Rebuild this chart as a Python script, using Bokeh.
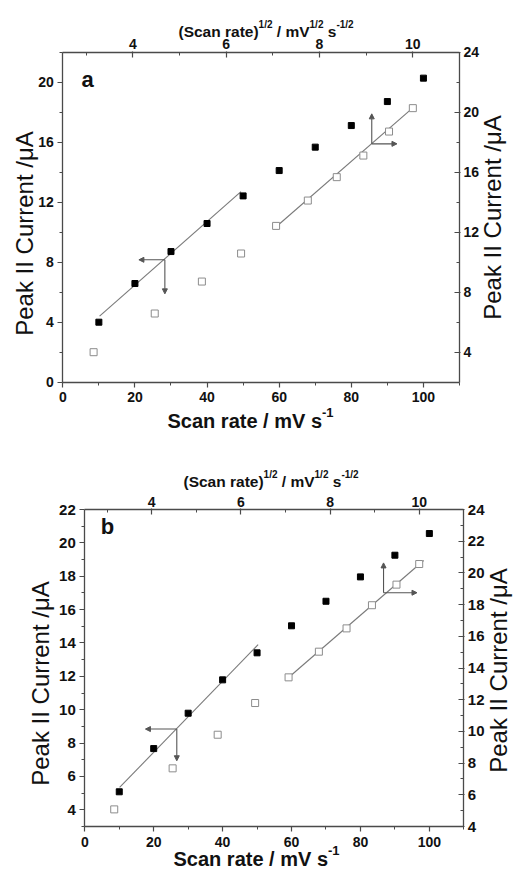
import math
from bokeh.plotting import figure
from bokeh.models import Range1d, LinearAxis, FixedTicker, Label, Arrow, NormalHead
from bokeh.embed import file_html
from bokeh.resources import INLINE

# ---------------- data ----------------
scan_rate = [10, 20, 30, 40, 50, 60, 70, 80, 90, 100]
sqrt_scan_rate = [3.16, 4.47, 5.48, 6.32, 7.07, 7.75, 8.37, 8.94, 9.49, 10.0]
current_a = [4.00, 6.58, 8.71, 10.58, 12.42, 14.11, 15.67, 17.11, 18.71, 20.27]
current_b = [5.08, 7.67, 9.79, 11.79, 13.41, 15.03, 16.50, 17.96, 19.26, 20.56]

# linear fits (end points)
fit_a_low_x, fit_a_low_y = [10.2, 49.4], [4.40, 12.70]
fit_a_high_x, fit_a_high_y = [7.06, 10.06], [12.33, 20.45]
fit_b_low_x, fit_b_low_y = [10.1, 50.3], [5.34, 13.90]
fit_b_high_x, fit_b_high_y = [7.07, 10.10], [13.40, 20.78]

# arrow markers: crossing point, end of horizontal arrow, end of vertical arrow
arrow_a_low = (28.3, 8.16, 21.1, 5.89)
arrow_a_high = (9.12, 17.89, 9.66, 19.89)
arrow_b_low = (26.7, 8.84, 17.6, 6.94)
arrow_b_high = (9.20, 18.75, 9.95, 20.63)

# axis ranges and ticks
x_range = (0, 110)
sqrt_range = (2.5, 11)
bottom_ticks, bottom_minor = [0, 20, 40, 60, 80, 100], [10, 30, 50, 70, 90, 110]
top_ticks, top_minor = [4, 6, 8, 10], [3, 5, 7, 9, 11]
left_range_a, right_range_a = (0, 22), (2, 24)
left_ticks_a, left_minor_a = [0, 4, 8, 12, 16, 20], [2, 6, 10, 14, 18, 22]
right_ticks_a, right_minor_a = [4, 8, 12, 16, 20, 24], [6, 10, 14, 18, 22]
left_range_b, right_range_b = (3, 22), (4, 24)
left_ticks_b, left_minor_b = [4, 6, 8, 10, 12, 14, 16, 18, 20, 22], [3, 5, 7, 9, 11, 13, 15, 17, 19, 21]
right_ticks_b, right_minor_b = [4, 6, 8, 10, 12, 14, 16, 18, 20, 22, 24], [5, 7, 9, 11, 13, 15, 17, 19, 21, 23]

FONT = "Liberation Sans"
AXC = "#4a4a4a"
TXT = "#111111"
W = 513

# Arial-bold advance widths (1/1000 em) for composing superscripts
AW = {' ': 278, '(': 333, ')': 333, 'S': 667, 'c': 556, 'a': 556, 'n': 611, 'r': 389,
      't': 333, 'e': 556, '/': 278, 'm': 889, 'V': 667, 's': 556, '1': 556, '2': 556, '-': 333}


def tw(s, size):
    return sum(AW.get(c, 556) for c in s) * size / 1000.0


def ext(lo, hi, p_lo, p_hi, total):
    """extend a data range so that lo..hi sits at pixels p_lo..p_hi of a canvas of size total"""
    s = (hi - lo) / (p_hi - p_lo)
    return lo - p_lo * s, hi + (total - p_hi) * s


def make_panel(g, left_range, right_range, lt, lm, rt, rm, tick_size_lr):
    H = g["H"]
    xr = ext(*x_range, g["fl"], g["fr"], W)
    sr = ext(*sqrt_range, g["fl"], g["fr"], W)
    yr = ext(*left_range, H - g["fb"], H - g["ft"], H)
    rr = ext(*right_range, H - g["fb"], H - g["ft"], H)
    p = figure(width=W, height=H, min_border_left=0, min_border_right=0,
               min_border_top=0, min_border_bottom=0,
               x_range=Range1d(*xr), y_range=Range1d(*yr),
               x_axis_location=None, y_axis_location=None,
               output_backend="svg", toolbar_location=None)
    p.extra_x_ranges = {"sqrt": Range1d(*sr)}
    p.extra_y_ranges = {"right": Range1d(*rr)}
    p.grid.visible = False
    p.outline_line_color = None
    p.background_fill_color = "white"
    p.border_fill_color = "white"

    bottom = LinearAxis(fixed_location=left_range[0], bounds=x_range)
    left = LinearAxis(fixed_location=x_range[0], bounds=left_range)
    top = LinearAxis(x_range_name="sqrt", fixed_location=left_range[1], bounds=sqrt_range)
    right = LinearAxis(y_range_name="right", fixed_location=x_range[1], bounds=right_range)
    p.add_layout(bottom, "below")
    p.add_layout(left, "left")
    p.add_layout(top, "above")
    p.add_layout(right, "right")

    def style(ax, ticks, minor, tin, tout, min_in, min_out, standoff, size):
        ax.ticker = FixedTicker(ticks=ticks, minor_ticks=minor)
        ax.axis_line_color = AXC
        ax.axis_line_width = 1.3
        ax.major_tick_line_color = AXC
        ax.minor_tick_line_color = AXC
        ax.major_tick_line_width = 1.2
        ax.minor_tick_line_width = 1.0
        ax.major_tick_in = tin
        ax.major_tick_out = tout
        ax.minor_tick_in = min_in
        ax.minor_tick_out = min_out
        ax.major_label_text_font = FONT
        ax.major_label_text_font_size = size
        ax.major_label_text_font_style = "bold"
        ax.major_label_text_color = TXT
        ax.major_label_standoff = standoff

    style(bottom, bottom_ticks, bottom_minor, 0, 5, 0, 3, 5, "14px")
    style(left, lt, lm, 0, 5, 0, 3, 4, tick_size_lr)
    style(top, top_ticks, top_minor, 5, 1, 3, 0, 2, "14px")
    style(right, rt, rm, 5, 1, 3, 0, 3, tick_size_lr)
    return p


def add_text(p, g, px, py, text, size, bold, align, angle=0.0):
    # px, py: page pixels of the text's vertical middle; canvas units start at the figure's top-left
    p.add_layout(Label(x=px, y=py - g["top"], x_units="canvas", y_units="canvas",
                       text=text, text_font=FONT, text_font_size=f"{size}px",
                       text_font_style="bold" if bold else "normal", text_color=TXT,
                       text_align=align, text_baseline="middle", angle=angle))


def rich_label(p, g, x_px, base_py, pieces):
    # base_py: page y of the text baseline; pieces: (text, font size, rise of its baseline)
    for text, size, rise in pieces:
        lead = len(text) - len(text.lstrip(' '))
        x_px += tw(' ' * lead, size)
        t = text.strip(' ')
        add_text(p, g, x_px, base_py - rise - 0.35 * size, t, size, True, "left")
        x_px += tw(t, size)


def draw_data(p, current, fl_x, fl_y, fh_x, fh_y, arr_low, arr_high):
    p.line(fl_x, fl_y, line_color="#7a7a7a", line_width=1.1)
    p.line(fh_x, fh_y, line_color="#7a7a7a", line_width=1.1,
           x_range_name="sqrt", y_range_name="right")
    p.scatter(scan_rate, current, marker="square", size=6,
              fill_color="black", line_color="black")
    p.scatter(sqrt_scan_rate, current, marker="square", size=7,
              fill_color="white", line_color="#8c8c8c", line_width=1,
              x_range_name="sqrt", y_range_name="right")
    cx, cy, hx, vy = arr_low
    for xe, ye in ((hx, cy), (cx, vy)):
        p.add_layout(Arrow(x_start=cx, y_start=cy, x_end=xe, y_end=ye,
                           line_color="#555555", line_width=1.1,
                           end=NormalHead(size=5, fill_color="#555555", line_color="#555555")))
    cx, cy, hx, vy = arr_high
    for xe, ye in ((hx, cy), (cx, vy)):
        p.add_layout(Arrow(x_start=cx, y_start=cy, x_end=xe, y_end=ye,
                           line_color="#555555", line_width=1.1,
                           x_range_name="sqrt", y_range_name="right",
                           end=NormalHead(size=5, fill_color="#555555", line_color="#555555")))


def top_pieces(f, fs):
    return [("(Scan rate)", f, 0), ("1/2", fs, 9), (" / mV", f, 0), ("1/2", fs, 9),
            (" s", f, 0), ("-1/2", fs, 9)]


def bottom_pieces(f, fs):
    return [("Scan rate / mV s", f, 0), ("-1", fs, 10)]


YLABEL = "Peak II Current /\u03bcA"

# ---------------- panel a ----------------
# top: page y of figure top; fl/fr: frame x; ft/fb: frame y inside the figure
ga = dict(top=0, H=440, fl=62.3, fr=459.0, ft=51.7, fb=381.7)
pa = make_panel(ga, left_range_a, right_range_a, left_ticks_a, left_minor_a,
                right_ticks_a, right_minor_a, "14px")
draw_data(pa, current_a, fit_a_low_x, fit_a_low_y, fit_a_high_x, fit_a_high_y,
          arrow_a_low, arrow_a_high)
add_text(pa, ga, 87, 79, "a", 22, True, "center")
rich_label(pa, ga, 178, 36, top_pieces(15.5, 10))
rich_label(pa, ga, 167, 427, bottom_pieces(20, 13))
add_text(pa, ga, 24, 233, YLABEL, 24, False, "center", math.pi / 2)
add_text(pa, ga, 492, 217, YLABEL, 24, False, "center", math.pi / 2)

# ---------------- panel b ----------------
gb = dict(top=440, H=435, fl=84.3, fr=463.3, ft=69.0, fb=386.0)
pb = make_panel(gb, left_range_b, right_range_b, left_ticks_b, left_minor_b,
                right_ticks_b, right_minor_b, "15px")
draw_data(pb, current_b, fit_b_low_x, fit_b_low_y, fit_b_high_x, fit_b_high_y,
          arrow_b_low, arrow_b_high)
add_text(pb, gb, 107, 526, "b", 22, True, "center")
rich_label(pb, gb, 183, 486, top_pieces(15.5, 10))
rich_label(pb, gb, 173, 865, bottom_pieces(20, 13))
add_text(pb, gb, 40, 683, YLABEL, 24, False, "center", math.pi / 2)
add_text(pb, gb, 498, 670, YLABEL, 24, False, "center", math.pi / 2)

open("out.html", "w").write(file_html([pa, pb], INLINE))
